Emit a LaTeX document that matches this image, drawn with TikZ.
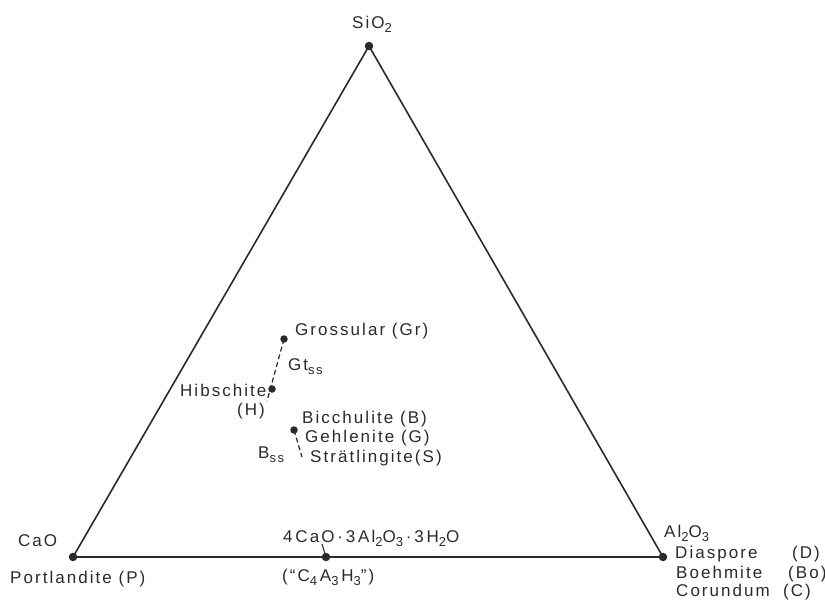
\documentclass[tikz,border=0pt]{standalone}
\usepackage{fontspec}
\setmainfont{Liberation Sans}[LetterSpace=12]
\definecolor{ink}{HTML}{2A2A2A}
\newcommand{\chemsub}[1]{\raisebox{-4pt}{\fontsize{13}{14}\selectfont #1}}
\begin{document}
\begin{tikzpicture}[x=1pt,y=-1pt,
  lbl/.style={anchor=base west,inner sep=0pt,text=ink,font=\fontsize{17}{19}\selectfont},
  dot/.style={circle,fill=ink,inner sep=0pt,minimum size=8.5pt},
  edge/.style={draw=ink,line width=1.6pt},
  dashpat/.style={draw=ink,line width=1.2pt,dash pattern=on 5pt off 3pt}]
\useasboundingbox (0,0) rectangle (825,600);
% vertices and phases
\node[dot] (si) at (369,46) {};
\node[dot] (ca) at (73,557) {};
\node[dot] (al) at (663,557) {};
\node[dot] (c4) at (326,557) {};
\node[dot,minimum size=7.5pt] (gr) at (284,339) {};
\node[dot,minimum size=7.5pt] (hb) at (272,389) {};
\node[dot,minimum size=7.5pt] (bc) at (294,430) {};
\coordinate (c4t) at (322,544);
\coordinate (gtend) at (267,401);
\coordinate (bend) at (302,457);
% triangle
\draw[edge] (ca.center) -- (si.center) -- (al.center) -- cycle;
\draw[draw=ink,line width=1pt] (c4t) -- (c4.center);
\draw[dashpat] (gr.center) -- (gtend);
\draw[dashpat] (bc.center) -- (bend);
% labels
\node[lbl] (tsi) at (352,28) {SiO\chemsub{2}};
\node[lbl] (tca) at (18,546) {CaO};
\node[lbl] (tpo) at (10,583) {Portlandite (P)};
\node[lbl] (tc4) at (283,542) {4\,CaO\,·\,3\,Al\chemsub{2}O\chemsub{3}\,·\,3\,H\chemsub{2}O};
\node[lbl] (tc4b) at (282,581) {(“C\chemsub{4}\,A\chemsub{3}\,H\chemsub{3}”)};
\node[lbl] (tal) at (664,537) {Al\chemsub{2}O\chemsub{3}};
\node[lbl] (tdi) at (675,558) {Diaspore};
\node[lbl] (tdi2) at (792,558) {(D)};
\node[lbl] (tbo) at (676,578) {Boehmite};
\node[lbl] (tbo2) at (788,578) {(Bo)};
\node[lbl] (tco) at (676,596) {Corundum};
\node[lbl] (tco2) at (783,596) {(C)};
\node[lbl] (tgr) at (295,335) {Grossular (Gr)};
\node[lbl] (tgt) at (288,370) {Gt\chemsub{ss}};
\node[lbl] (thb) at (180,396) {Hibschite};
\node[lbl] (thb2) at (237,415) {(H)};
\node[lbl] (tbc) at (302,423) {Bicchulite (B)};
\node[lbl] (tge) at (305,442) {Gehlenite (G)};
\node[lbl] (tst) at (310,462) {Strätlingite(S)};
\node[lbl] (tbs) at (258,458) {B\chemsub{ss}};
\end{tikzpicture}
\end{document}
